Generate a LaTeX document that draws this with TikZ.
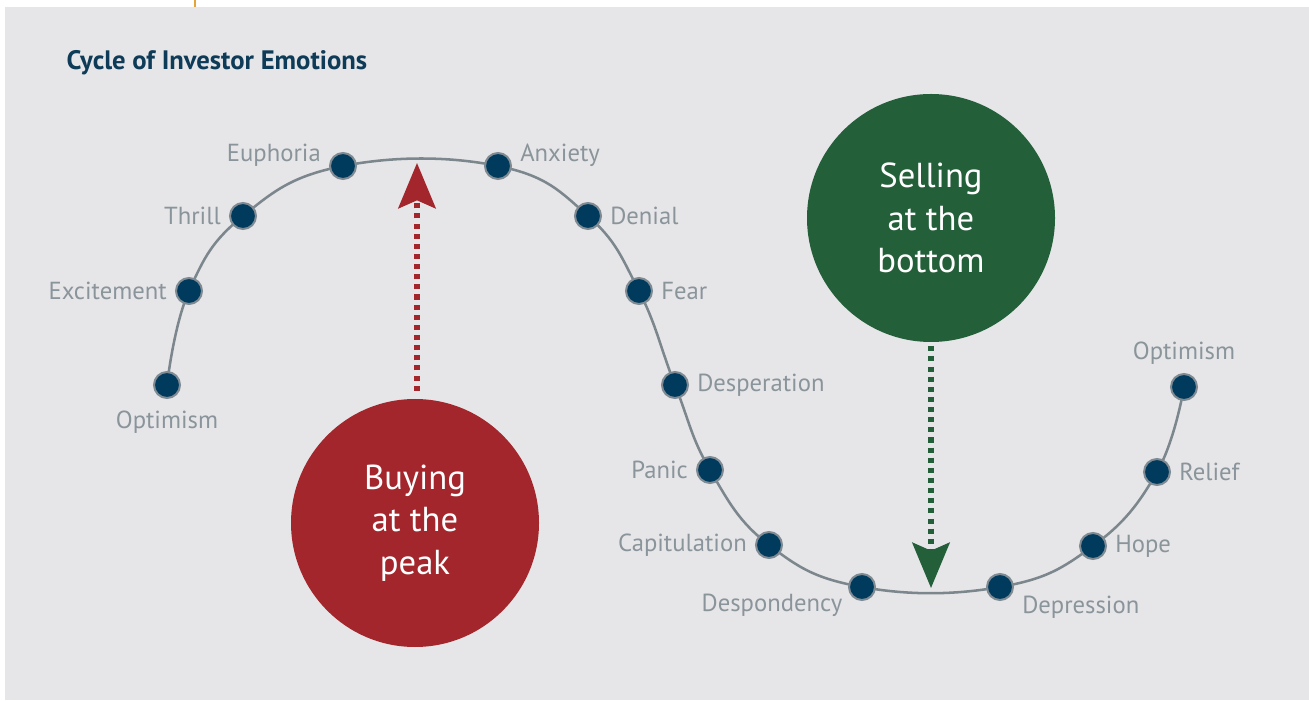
\documentclass[tikz,border=0pt]{standalone}
\usepackage{fontspec}
\setmainfont{PT Sans}
\usetikzlibrary{arrows.meta}

\definecolor{panel}{HTML}{E6E6E8}
\definecolor{wire}{HTML}{7B868D}
\definecolor{navy}{HTML}{003A5C}
\definecolor{rim}{HTML}{7F8A92}
\definecolor{ash}{HTML}{8A949B}
\definecolor{headblue}{HTML}{0E3B57}
\definecolor{buyred}{HTML}{A3262C}
\definecolor{sellgreen}{HTML}{235F39}
\definecolor{amber}{HTML}{E3A43A}

\begin{document}
\begin{tikzpicture}[x=75pt,y=75pt,label distance=5pt,
  mood/.style={circle, fill=navy, draw=rim, line width=1.5pt, minimum size=19.5pt, inner sep=0pt},
  emo/.style={text=ash, font=\fontsize{18.5}{20}\selectfont, inner sep=1pt},
  bubble/.style={circle, minimum size=186pt, inner sep=0pt, text=white, align=center,
    font=\fontsize{26}{32}\selectfont},
  hint/.style={line width=3.8pt, dash pattern=on 3.8pt off 3.8pt,
    -{Stealth[length=34pt,width=28pt,inset=6pt]}}]
  \useasboundingbox (0,0) rectangle (13.09,7.00);
  \fill[panel] (0.05,0) rectangle (13.09,6.93);
  \draw[amber, line width=1.2pt] (1.95,7.00) -- (1.95,6.93);

  \node[anchor=west, text=headblue, font=\fontsize{20}{22}\selectfont\bfseries] (title) at (0.62,6.37) {Cycle of Investor Emotions};

  % points along the wave
  \coordinate (optA) at (1.67,3.15);
  \coordinate (excite) at (1.89,4.09);
  \coordinate (thrill) at (2.43,4.84);
  \coordinate (euph) at (3.43,5.34);
  \coordinate (anx) at (4.98,5.34);
  \coordinate (denial) at (5.88,4.84);
  \coordinate (fear) at (6.39,4.09);
  \coordinate (desp) at (6.75,3.15);
  \coordinate (panic) at (7.10,2.30);
  \coordinate (capit) at (7.69,1.55);
  \coordinate (despond) at (8.62,1.13);
  \coordinate (depress) at (10.00,1.13);
  \coordinate (hope) at (10.93,1.54);
  \coordinate (relief) at (11.57,2.28);
  \coordinate (optB) at (11.84,3.13);
  % crest and trough of the wave
  \coordinate (top) at (4.20,5.43);
  \coordinate (bottom) at (9.31,1.06);

  \draw[wire, line width=1.9pt] plot[smooth, tension=0.72] coordinates {(optA) (excite) (thrill) (euph) (anx) (denial) (fear) (desp) (panic) (capit) (despond) (depress) (hope) (relief) (optB)};

  \node[mood, label={[emo,label distance=8pt]below:Optimism}] (nOptA) at (optA) {};
  \node[mood, label={[emo]left:Excitement}] (nExcite) at (excite) {};
  \node[mood, label={[emo]left:Thrill}] (nThrill) at (thrill) {};
  \node[mood, label={[emo,yshift=8pt]left:Euphoria}] (nEuph) at (euph) {};
  \node[mood, label={[emo,yshift=8pt]right:Anxiety}] (nAnx) at (anx) {};
  \node[mood, label={[emo]right:Denial}] (nDenial) at (denial) {};
  \node[mood, label={[emo]right:Fear}] (nFear) at (fear) {};
  \node[mood, label={[emo]right:Desperation}] (nDesp) at (desp) {};
  \node[mood, label={[emo]left:Panic}] (nPanic) at (panic) {};
  \node[mood, label={[emo]left:Capitulation}] (nCapit) at (capit) {};
  \node[mood, label={[emo,yshift=-14pt,xshift=2pt]left:Despondency}] (nDespond) at (despond) {};
  \node[mood, label={[emo,yshift=-15pt]right:Depression}] (nDepress) at (depress) {};
  \node[mood, label={[emo]right:Hope}] (nHope) at (hope) {};
  \node[mood, label={[emo]right:Relief}] (nRelief) at (relief) {};
  \node[mood, label={[emo]above:Optimism}] (nOptB) at (optB) {};

  % the two calls
  \node[bubble, fill=buyred] (buy) at (4.15,1.77) {Buying\\at the\\peak};
  \node[bubble, fill=sellgreen] (sell) at (9.31,4.82) {Selling\\at the\\bottom};

  \draw[hint, buyred] ([xshift=1.5pt,yshift=6pt]buy.north) -- ([xshift=1.5pt,yshift=-4.5pt]buy.north |- top);
  \draw[hint, sellgreen] ([yshift=-3pt]sell.south) -- ([yshift=4.5pt]bottom);
\end{tikzpicture}
\end{document}
